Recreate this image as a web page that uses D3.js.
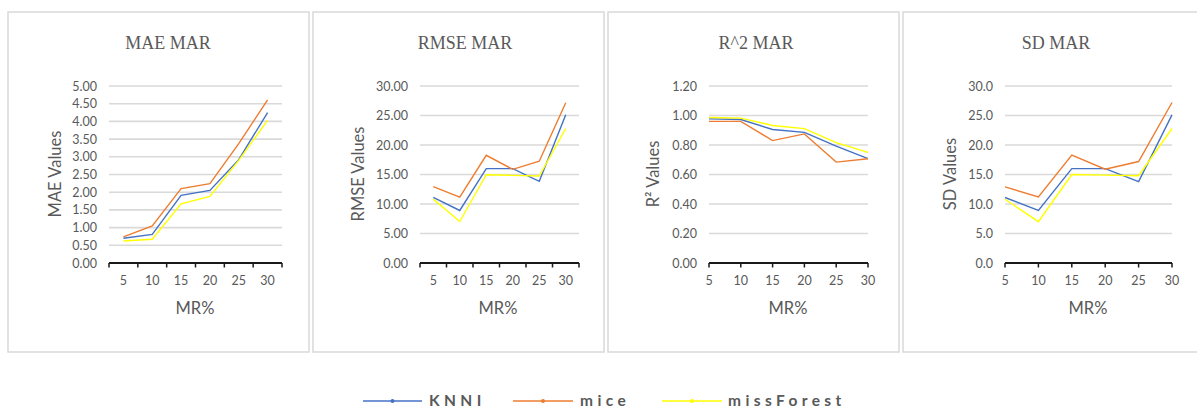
<!DOCTYPE html>
<html>
<head>
<meta charset="utf-8">
<script src="https://cdn.jsdelivr.net/npm/d3@7"></script>
<style>
  html, body { margin: 0; padding: 0; background: #fff; }
  svg { display: block; }
</style>
</head>
<body>
<svg id="chart" width="1197" height="410"></svg>
<script>
// ---- data ----
const categories = [5, 10, 15, 20, 25, 30];
const seriesNames = ["KNNI", "mice", "missForest"];
const seriesColors = ["#4472C4", "#ED7D31", "#FFFF00"];

const maeKNNI = [0.70, 0.81, 1.91, 2.05, 2.92, 4.25];
const maeMice = [0.74, 1.05, 2.10, 2.24, 3.37, 4.61];
const maeMissForest = [0.62, 0.67, 1.67, 1.88, 2.90, 4.03];

const rmseKNNI = [11.12, 8.90, 16.00, 16.00, 13.84, 25.13];
const rmseMice = [12.93, 11.17, 18.26, 15.88, 17.24, 27.17];
const rmseMissForest = [10.83, 7.03, 14.97, 14.86, 14.75, 22.80];

const r2KNNI = [0.977, 0.973, 0.905, 0.886, 0.793, 0.707];
const r2Mice = [0.960, 0.960, 0.830, 0.875, 0.684, 0.707];
const r2MissForest = [0.986, 0.982, 0.932, 0.911, 0.816, 0.750];

const sdKNNI = [11.1, 8.9, 16.0, 16.0, 13.8, 25.1];
const sdMice = [12.9, 11.2, 18.3, 15.9, 17.2, 27.2];
const sdMissForest = [10.8, 7.0, 15.0, 14.9, 14.8, 22.8];

const maeTicks = [0, 0.5, 1, 1.5, 2, 2.5, 3, 3.5, 4, 4.5, 5];
const rmseTicks = [0, 5, 10, 15, 20, 25, 30];
const r2Ticks = [0, 0.2, 0.4, 0.6, 0.8, 1.0, 1.2];
const sdTicks = [0, 5, 10, 15, 20, 25, 30];

const titles = ["MAE MAR", "RMSE MAR", "R^2 MAR", "SD MAR"];
const yTitles = ["MAE Values", "RMSE Values", "R\u00B2 Values", "SD Values"];
const xTitle = "MR%";

// ---- layout ----
const panels = [
  { box: [8, 12, 301, 340], x: [109, 282], kind: "band", titleX: 168, yTitleX: 55, xTitleX: 195,
    series: [maeKNNI, maeMice, maeMissForest], ticks: maeTicks, fmt: ".2f", max: 5 },
  { box: [313, 12, 291, 340], x: [420, 579], kind: "band", titleX: 465, yTitleX: 358, xTitleX: 498,
    series: [rmseKNNI, rmseMice, rmseMissForest], ticks: rmseTicks, fmt: ".2f", max: 30 },
  { box: [608, 12, 291, 340], x: [709, 868], kind: "point", titleX: 756, yTitleX: 653, xTitleX: 788,
    series: [r2KNNI, r2Mice, r2MissForest], ticks: r2Ticks, fmt: ".2f", max: 1.2 },
  { box: [903, 12, 300, 340], x: [1005, 1172], kind: "point", titleX: 1056, yTitleX: 950, xTitleX: 1088,
    series: [sdKNNI, sdMice, sdMissForest], ticks: sdTicks, fmt: ".1f", max: 30 }
];

const svg = d3.select("#chart");
const yTop = 86, yBottom = 263;
const sansFont = "Lato, 'Open Sans', sans-serif";
const textGrey = "#595959";

panels.forEach((p, i) => {
  const g = svg.append("g");
  g.append("rect")
    .attr("x", p.box[0]).attr("y", p.box[1])
    .attr("width", p.box[2]).attr("height", p.box[3])
    .attr("fill", "#fff").attr("stroke", "#d9d9d9").attr("stroke-width", 1.5);

  const y = d3.scaleLinear().domain([0, p.max]).range([yBottom, yTop]);
  let x, xPos, tickPositions;
  if (p.kind === "band") {
    x = d3.scaleBand().domain(categories).range(p.x).padding(0);
    xPos = c => x(c) + x.bandwidth() / 2;
    tickPositions = categories.map(c => x(c)).concat([p.x[1]]);
  } else {
    x = d3.scalePoint().domain(categories).range(p.x).padding(0);
    xPos = c => x(c);
    tickPositions = categories.map(c => x(c));
  }

  // gridlines
  g.selectAll(".grid").data(p.ticks.filter(t => t > 0)).enter().append("line")
    .attr("x1", p.x[0]).attr("x2", p.x[1])
    .attr("y1", d => y(d)).attr("y2", d => y(d))
    .attr("stroke", "#d9d9d9").attr("stroke-width", 1.6);

  // y tick labels
  const yAxis = d3.axisLeft(y).tickValues(p.ticks).tickFormat(d3.format(p.fmt)).tickSize(0).tickPadding(12);
  const ya = g.append("g").attr("transform", `translate(${p.x[0]},0)`).call(yAxis);
  ya.select(".domain").remove();
  ya.selectAll("text").attr("fill", textGrey).style("font-family", sansFont).style("font-size", "12.5px");

  // x axis
  g.append("line")
    .attr("x1", p.x[0]).attr("x2", p.x[1]).attr("y1", yBottom).attr("y2", yBottom)
    .attr("stroke", "#1a1a1a").attr("stroke-width", 2);
  g.selectAll(".xtick").data(tickPositions).enter().append("line")
    .attr("x1", d => d).attr("x2", d => d).attr("y1", yBottom).attr("y2", yBottom + 4.5)
    .attr("stroke", "#1a1a1a").attr("stroke-width", 1.5);
  g.selectAll(".xlab").data(categories).enter().append("text")
    .attr("x", d => xPos(d)).attr("y", 285)
    .attr("text-anchor", "middle").attr("fill", textGrey)
    .style("font-family", sansFont).style("font-size", "12.5px")
    .text(d => d);

  // series lines
  const line = d3.line().x((d, j) => xPos(categories[j])).y(d => y(d));
  p.series.forEach((s, k) => {
    g.append("path").datum(s)
      .attr("d", line).attr("fill", "none")
      .attr("stroke", seriesColors[k]).attr("stroke-width", 1.4);
  });

  // titles
  g.append("text").attr("x", p.titleX).attr("y", 49)
    .attr("text-anchor", "middle").attr("fill", textGrey)
    .style("font-family", "'Liberation Serif', 'Times New Roman', serif").style("font-size", "18px")
    .text(titles[i]);
  g.append("text")
    .attr("transform", `translate(${p.yTitleX + 6},174) rotate(-90)`)
    .attr("text-anchor", "middle").attr("fill", textGrey)
    .style("font-family", sansFont).style("font-size", "16.5px")
    .text(yTitles[i]);
  g.append("text").attr("x", p.xTitleX).attr("y", 314)
    .attr("text-anchor", "middle").attr("fill", textGrey)
    .style("font-family", sansFont).style("font-size", "16.5px")
    .text(xTitle);
});

// legend
const legendItems = [
  { x1: 363, x2: 422, tx: 429 },
  { x1: 513, x2: 573, tx: 580 },
  { x1: 662, x2: 722, tx: 728 }
];
const lg = svg.append("g");
legendItems.forEach((it, k) => {
  lg.append("line").attr("x1", it.x1).attr("x2", it.x2).attr("y1", 401).attr("y2", 401)
    .attr("stroke", seriesColors[k]).attr("stroke-width", 1.5);
  lg.append("circle").attr("cx", (it.x1 + it.x2) / 2).attr("cy", 401).attr("r", 2)
    .attr("fill", seriesColors[k]);
  lg.append("text").attr("x", it.tx).attr("y", 405.5)
    .attr("fill", textGrey)
    .style("font-family", sansFont).style("font-size", "15.5px").style("font-weight", "bold")
    .style("letter-spacing", "4.4px")
    .text(seriesNames[k]);
});
</script>
</body>
</html>
